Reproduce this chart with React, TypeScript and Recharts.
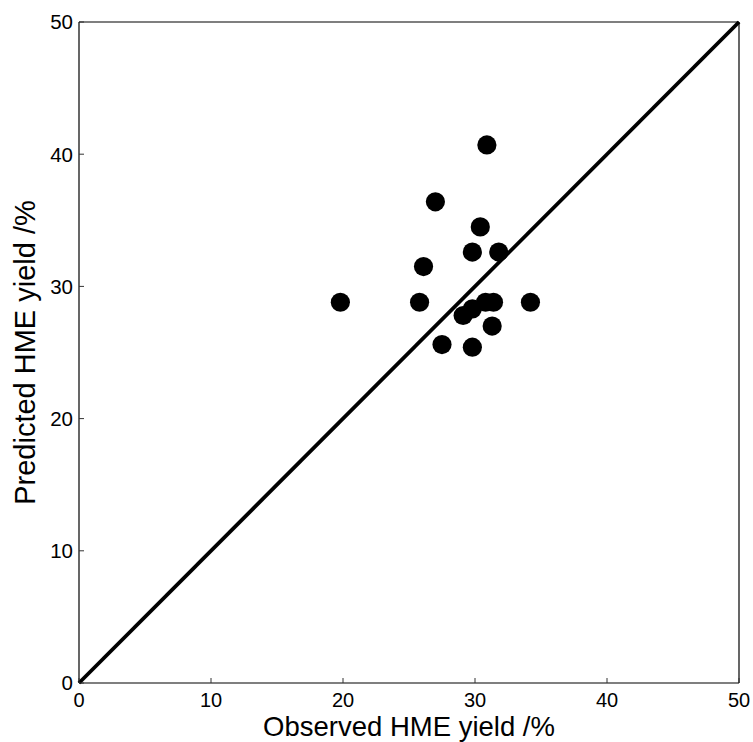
import { ScatterChart, Scatter, XAxis, YAxis, ReferenceLine, Label } from "recharts";

// observed vs predicted HME yield (%)
const observed = [30.9, 27.0, 30.4, 29.8, 31.8, 26.1, 19.8, 25.8, 30.8, 31.4, 34.2, 29.1, 29.8, 31.3, 27.5, 29.8];
const predicted = [40.7, 36.4, 34.5, 32.6, 32.6, 31.5, 28.8, 28.8, 28.8, 28.8, 28.8, 27.8, 28.3, 27.0, 25.6, 25.4];
const axisTicks = [0, 10, 20, 30, 40, 50];
const axisMax = 50;

const points = observed.map((x, i) => ({ x, y: predicted[i] }));

const FONT = "'Liberation Sans', Arial, sans-serif";
const TICK_COLOR = "#333";
const TICK_LEN = 5;
const X_TICK_GAP = 10;

function LeftTick({ x, y, payload }: any) {
  // x is axis x minus tickMargin (6)
  return (
    <g>
      <line x1={x + 6} x2={x + 6 + TICK_LEN} y1={y} y2={y} stroke={TICK_COLOR} />
      <text x={x} y={y} dy="0.36em" textAnchor="end" fontSize={20.5} fontFamily={FONT} fill="#000">
        {payload.value}
      </text>
    </g>
  );
}

function BottomTick({ x, y, payload }: any) {
  // y is axis y plus tickMargin
  return (
    <g>
      <line x1={x} x2={x} y1={y - X_TICK_GAP} y2={y - X_TICK_GAP - TICK_LEN} stroke={TICK_COLOR} />
      <text x={x} y={y} dy="0.72em" textAnchor="middle" fontSize={20} fontFamily={FONT} fill="#000">
        {payload.value}
      </text>
    </g>
  );
}

function TopTick({ x, y }: any) {
  return <line x1={x} x2={x} y1={y} y2={y + TICK_LEN} stroke={TICK_COLOR} />;
}

function RightTick({ x, y }: any) {
  return <line x1={x - TICK_LEN} x2={x} y1={y} y2={y} stroke={TICK_COLOR} />;
}

function Dot({ cx, cy }: any) {
  return <circle cx={cx} cy={cy} r={9.6} fill="#000" />;
}

export default function App() {
  return (
    <div style={{ position: "absolute", left: 0, top: 0, background: "#fff" }}>
      <ScatterChart width={753} height={742} margin={{ top: 0, right: 0, bottom: 0, left: 0 }}>
        <XAxis
          type="number"
          dataKey="x"
          domain={[0, axisMax]}
          ticks={axisTicks}
          allowDataOverflow
          height={59}
          tickSize={0}
          tickMargin={X_TICK_GAP}
          tick={<BottomTick />}
          axisLine={{ stroke: "#000", strokeWidth: 1.2 }}
        >
          <Label
            value="Observed HME yield /%"
            position="insideBottom"
            offset={6}
            style={{ fontSize: 27.5, fontFamily: FONT, fill: "#000" }}
          />
        </XAxis>
        <XAxis
          xAxisId="top"
          orientation="top"
          type="number"
          domain={[0, axisMax]}
          ticks={axisTicks}
          height={22}
          tickSize={0}
          tickMargin={0}
          tick={<TopTick />}
          axisLine={{ stroke: "#000", strokeWidth: 1.2 }}
        />
        <YAxis
          type="number"
          dataKey="y"
          domain={[0, axisMax]}
          ticks={axisTicks}
          allowDataOverflow
          width={79}
          tickSize={0}
          tickMargin={6}
          tick={<LeftTick />}
          axisLine={{ stroke: "#000", strokeWidth: 1.2 }}
        >
          <Label
            value="Predicted HME yield /%"
            angle={-90}
            position="insideLeft"
            offset={25}
            style={{ fontSize: 29, fontFamily: FONT, fill: "#000", textAnchor: "middle" }}
          />
        </YAxis>
        <YAxis
          yAxisId="right"
          orientation="right"
          type="number"
          domain={[0, axisMax]}
          ticks={axisTicks}
          width={14}
          tickSize={0}
          tickMargin={0}
          tick={<RightTick />}
          axisLine={{ stroke: "#000", strokeWidth: 1.2 }}
        />
        <ReferenceLine
          segment={[
            { x: 0, y: 0 },
            { x: axisMax, y: axisMax },
          ]}
          stroke="#000"
          strokeWidth={3.8}
        />
        <Scatter data={points} shape={<Dot />} isAnimationActive={false} />
      </ScatterChart>
    </div>
  );
}
